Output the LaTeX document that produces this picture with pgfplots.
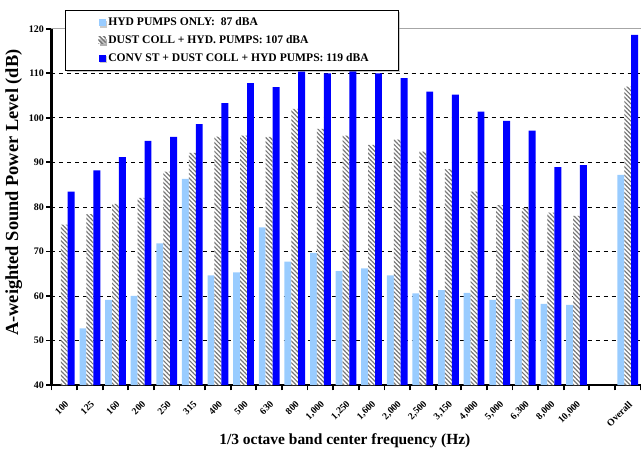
\documentclass[border=0pt]{standalone}
\usepackage{fontspec}
\setmainfont{Liberation Serif}
\usepackage{pgfplots}
\pgfplotsset{compat=1.18}
\usetikzlibrary{patterns.meta,shadows}
\definecolor{lightbar}{RGB}{153,204,255}
\definecolor{bluebar}{RGB}{0,0,255}
\definecolor{hatchgray}{RGB}{120,120,120}
\begin{document}
\begin{tikzpicture}
\begin{axis}[
  scale only axis,
  width=441.75pt, height=267.2pt,
  xmin=-0.5, xmax=22.5,
  ymin=40, ymax=120,
  ybar=0pt, bar width=0.27,
  axis lines*=left,
  axis line style={black, line width=2pt},
  tick align=outside,
  major tick length=4pt,
  tick style={black, line width=1.3pt},
  ytick={40,50,...,110},
  extra y ticks={120},
  extra y tick style={grid=major, major grid style={gray!70, solid, line width=0.6pt}},
  ymajorgrids,
  major grid style={black, dashed, line width=0.5pt},
  xtick={-0.5,0.5,...,22.5},
  xticklabel=\empty,
  extra x ticks={0,1,...,22},
  extra x tick labels={100,125,160,200,250,315,400,500,630,800,{1,000},{1,250},{1,600},{2,000},{2,500},{3,150},{4,000},{5,000},{6,300},{8,000},{10,000},,Overall},
  extra x tick style={tick style={draw=none}, xticklabel style={rotate=45, anchor=east, font=\bfseries\fontsize{7.3}{8}\selectfont, inner sep=1pt, yshift=-8pt, xshift=-4pt}},
  /pgf/number format/assume math mode=true,
  yticklabel style={font=\bfseries\fontsize{7.5}{8}\selectfont, inner sep=1.5pt},
  ylabel={A-weighted Sound Power Level (dB)},
  ylabel style={at={(axis description cs:-0.064,0.54)}, anchor=center, rotate=0, font=\bfseries\fontsize{13.8}{15}\selectfont},
  xlabel={1/3 octave band center frequency (Hz)},
  xlabel style={at={(axis description cs:0.498,-0.157)}, anchor=center, font=\bfseries\fontsize{11.6}{13}\selectfont},
  legend style={at={(axis description cs:0.0229,1.0528)}, anchor=north west,
    draw=black, line width=0.6pt, fill=white, font=\bfseries\fontsize{8.7}{10.6}\selectfont,
    legend cell align=left, inner xsep=20pt, inner ysep=3.5pt, row sep=1.8pt,
    drop shadow={shadow xshift=1.2pt, shadow yshift=-1.2pt, fill=gray!80}},
]
\addplot[fill=lightbar, draw=none, bar shift=-0.27,
  legend image code/.code={\path (0pt,0pt); \fill[lightbar] (5pt,-2.6pt) rectangle (10.2pt,2.6pt);}]
  coordinates {(1,52.7) (2,59.1) (3,60.0) (4,71.8) (5,86.3) (6,64.6) (7,65.3) (8,75.4) (9,67.7) (10,69.7) (11,65.6) (12,66.2) (13,64.6) (14,60.6) (15,61.3) (16,60.7) (17,59.1) (18,59.3) (19,58.2) (20,58.0) (22,87.2)};
\addlegendentry{HYD PUMPS ONLY:~~87 dBA}
\addplot[fill=white, draw=none, bar shift=0,
  postaction={pattern={Lines[angle=-45, distance=2.3pt, line width=0.9pt]}, pattern color=hatchgray},
  legend image code/.code={\path (0pt,0pt); \fill[white] (5pt,-2.6pt) rectangle (10.2pt,2.6pt);
     \fill[pattern={Lines[angle=-45, distance=2.3pt, line width=0.7pt]}, pattern color=hatchgray!70] (5pt,-2.6pt) rectangle (10.2pt,2.6pt);}]
  coordinates {(0,76.0) (1,78.4) (2,80.7) (3,82.0) (4,87.9) (5,92.1) (6,95.8) (7,96.0) (8,95.7) (9,102.0) (10,97.5) (11,96.0) (12,93.9) (13,95.1) (14,92.4) (15,88.5) (16,83.4) (17,80.4) (18,79.7) (19,78.7) (20,78.0) (22,107.0)};
\addlegendentry{DUST COLL + HYD. PUMPS: 107 dBA}
\addplot[fill=bluebar, draw=none, bar shift=0.27,
  legend image code/.code={\path (0pt,0pt); \fill[bluebar] (5pt,-2.6pt) rectangle (10.2pt,2.6pt);}]
  coordinates {(0,83.4) (1,88.2) (2,91.2) (3,94.8) (4,95.7) (5,98.6) (6,103.3) (7,107.8) (8,106.9) (9,110.4) (10,110.0) (11,110.9) (12,110.0) (13,108.9) (14,105.9) (15,105.2) (16,101.4) (17,99.3) (18,97.1) (19,88.9) (20,89.4) (22,118.6)};
\addlegendentry{CONV ST + DUST COLL + HYD PUMPS: 119 dBA}
\end{axis}
\pgfresetboundingbox
\useasboundingbox (-38.6pt,-51pt) rectangle (442.1pt,288.75pt);
\end{tikzpicture}
\end{document}
